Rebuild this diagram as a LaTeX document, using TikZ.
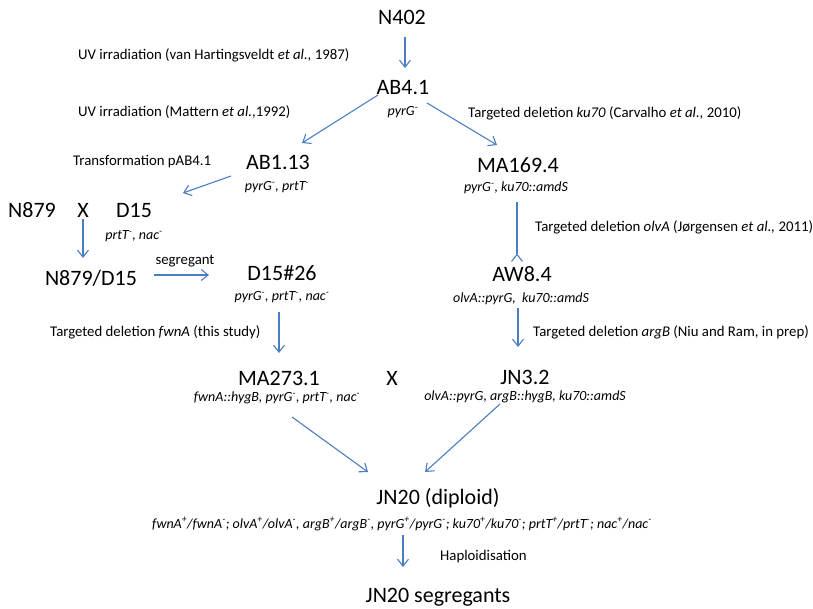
\documentclass[tikz,border=0pt]{standalone}
\usepackage{fontspec}
\setmainfont{Carlito}
\usetikzlibrary{arrows.meta}
\definecolor{arrblue}{RGB}{74,126,193}
\newcommand{\gminus}{\textsuperscript{-}}
\newcommand{\gplus}{\textsuperscript{+}}
\begin{document}
\begin{tikzpicture}[x=1pt,y=-1pt,
  strain/.style={inner sep=0pt,font=\fontsize{22}{26}\selectfont},
  geno/.style={inner sep=0pt,font=\fontsize{14}{16}\selectfont\itshape},
  lab/.style={inner sep=0pt,anchor=west,font=\fontsize{14.8}{17}\selectfont},
  arr/.style={draw=arrblue,line width=1.1pt,-{Straight Barb[length=7pt,width=11pt]}},
  rev/.style={draw=arrblue,line width=1.1pt,-{Straight Barb[length=7pt,width=11pt,reversed]}}]
\useasboundingbox (0,0) rectangle (813,608);
% strains
\node[strain] (N402) at (402,17) {N402};
\node[strain] (AB41) at (403,88) {AB4.1};
\node[geno] (AB41g) at (403,112) {pyrG\gminus};
\node[strain] (AB113) at (278,162) {AB1.13};
\node[geno] (AB113g) at (277,187) {pyrG\gminus, prtT\gminus};
\node[strain] (MA1694) at (518,165) {MA169.4};
\node[geno] (MA1694g) at (516,188) {pyrG\gminus, ku70::amdS};
\node[strain] (N879) at (32,210) {N879};
\node[strain] (X1) at (83,210) {X};
\node[strain] (D15) at (134,210) {D15};
\node[geno] (D15g) at (134,236) {prtT\gminus, nac\gminus};
\node[strain] (N879D15) at (91,278) {N879/D15};
\node[strain] (D1526) at (282,273) {D15\#26};
\node[geno] (D1526g) at (282,297) {pyrG\gminus, prtT\gminus, nac\gminus};
\node[strain] (AW84) at (522,274) {AW8.4};
\node[geno] (AW84g) at (521,299) {olvA::pyrG,\ \ ku70::amdS};
\node[strain] (MA2731) at (279,378) {MA273.1};
\node[geno] (MA2731g) at (277,398) {fwnA::hygB, pyrG\gminus, prtT\gminus, nac\gminus};
\node[strain] (X2) at (392,378) {X};
\node[strain] (JN32) at (525,377) {JN3.2};
\node[geno] (JN32g) at (525,397) {olvA::pyrG, argB::hygB, ku70::amdS};
\node[strain] (JN20) at (438,498) {JN20 (diploid)};
\node[geno] (JN20g) at (402,524) {fwnA\gplus/fwnA\gminus; olvA\gplus/olvA\gminus, argB\gplus/argB\gminus, pyrG\gplus/pyrG\gminus; ku70\gplus/ku70\gminus; prtT\gplus/prtT\gminus; nac\gplus/nac\gminus};
\node[strain] (JN20s) at (438,597) {JN20 segregants};
% labels
\node[lab] (L1) at (78,55) {UV irradiation (van Hartingsveldt \textit{et al.,} 1987)};
\node[lab] (L2) at (78,112) {UV irradiation (Mattern \textit{et al.},1992)};
\node[lab] (L3) at (468,113) {Targeted deletion \textit{ku70} (Carvalho \textit{et al.,} 2010)};
\node[lab] (L4) at (73,162) {Transformation pAB4.1};
\node[lab] (L5) at (535,227) {Targeted deletion \textit{olvA} (Jørgensen \textit{et al.,} 2011)};
\node[lab,anchor=center] (L6) at (185,261) {segregant};
\node[lab] (L7) at (50,332) {Targeted deletion \textit{fwnA} (this study)};
\node[lab] (L8) at (533,332) {Targeted deletion \textit{argB} (Niu and Ram, in prep)};
\node[lab] (L9) at (440,557) {Haploidisation};
% connectors
\draw[arr] ([shift={(3,20)}]N402.center) -- ([shift={(2,-20)}]AB41.center);
\draw[arr] ([shift={(-25,7)}]AB41.center) -- ([shift={(24,-19)}]AB113.center);
\draw[arr] ([shift={(24,15)}]AB41.center) -- ([shift={(-21,-20)}]MA1694.center);
\draw[arr] ([shift={(-47,14)}]AB113.center) -- ([shift={(49,-17)}]D15.center);
\draw[arr] ([shift={(0,9)}]X1.center) -- ([shift={(-8,-20)}]N879D15.center);
\draw[arr] ([shift={(63,-3)}]N879D15.center) -- ([shift={(-73,2)}]D1526.center);
\draw[rev] ([shift={(-1,37)}]MA1694.center) -- ([shift={(-5,-12)}]AW84.center);
\draw[arr] ([shift={(-3,9)}]AW84g.center) -- ([shift={(-7,-30)}]JN32.center);
\draw[arr] ([shift={(-3,15)}]D1526g.center) -- ([shift={(0,-25)}]MA2731.center);
\draw[arr] ([shift={(15,19)}]MA2731g.center) -- ([shift={(-70,-26)}]JN20.center);
\draw[arr] ([shift={(-25,7)}]JN32g.center) -- ([shift={(-13,-26)}]JN20.center);
\draw[arr] ([shift={(1,11)}]JN20g.center) -- ([shift={(-35,-30)}]JN20s.center);
\end{tikzpicture}
\end{document}
